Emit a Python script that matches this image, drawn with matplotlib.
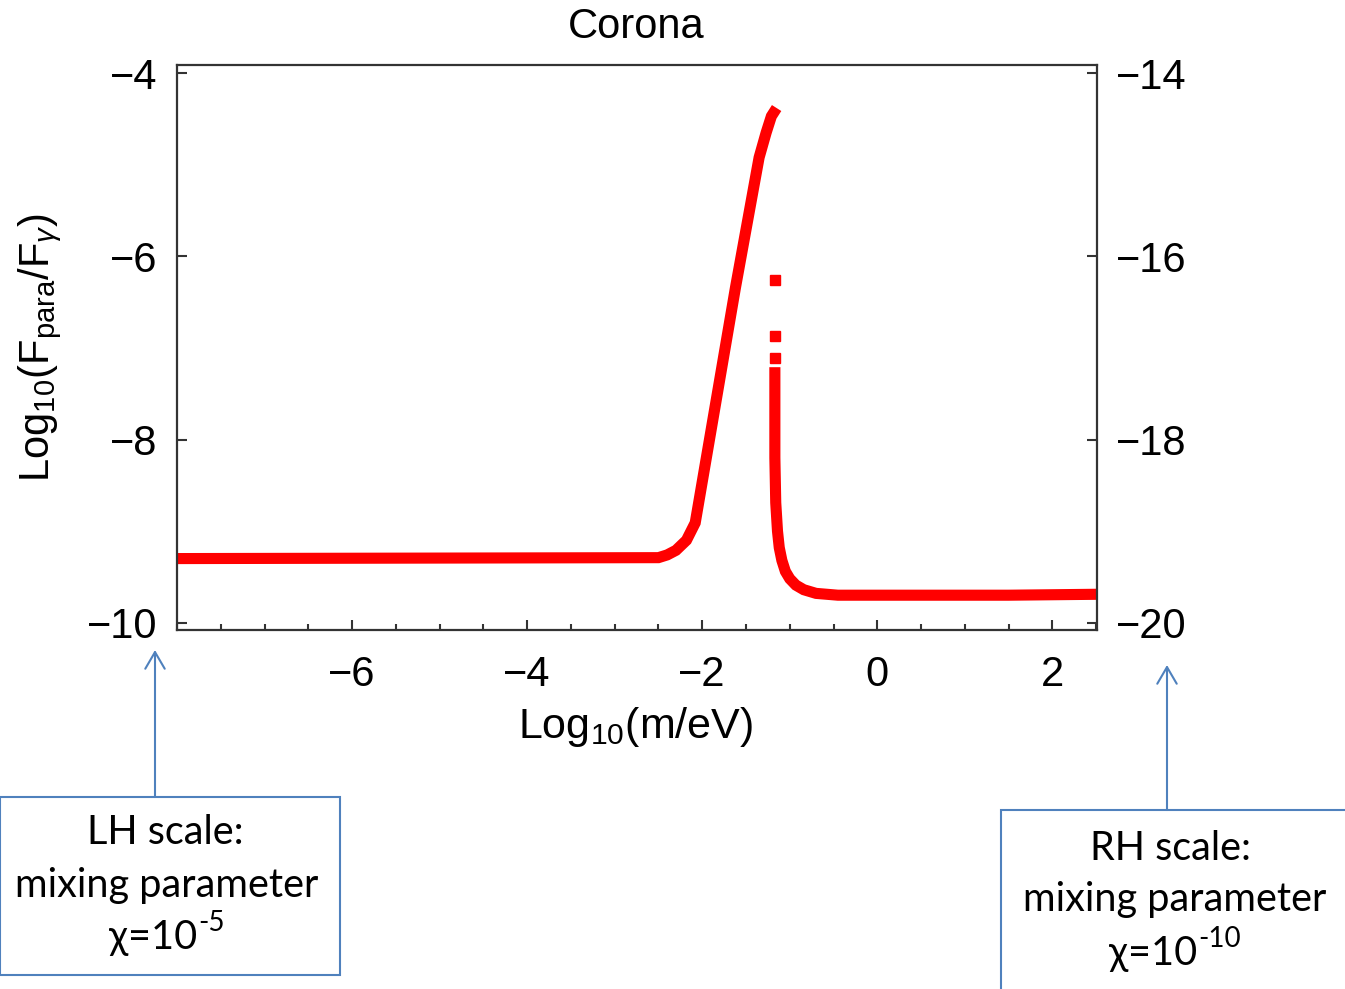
import matplotlib
matplotlib.use("Agg")
import matplotlib.pyplot as plt
from matplotlib.patches import Rectangle, FancyArrowPatch
from matplotlib.ticker import MultipleLocator, FuncFormatter

plt.rcParams['font.family'] = ['Liberation Sans', 'DejaVu Sans']
plt.rcParams['mathtext.fontset'] = 'custom'
plt.rcParams['mathtext.rm'] = 'Liberation Sans'
plt.rcParams['mathtext.it'] = 'Liberation Sans:italic'
plt.rcParams['mathtext.bf'] = 'Liberation Sans:bold'

# --- data (log10 m/eV, log10 Fpara/Fgamma on LH scale) ---
x_rise = [-8.0, -2.5, -2.4, -2.3, -2.18, -2.08, -1.62, -1.35, -1.27, -1.21, -1.15]
y_rise = [-9.30, -9.29, -9.26, -9.21, -9.10, -8.91, -6.34, -4.92, -4.65, -4.47, -4.38]

x_dots = [-1.17, -1.17, -1.17]
y_dots = [-6.26, -6.87, -7.11]

x_fall = [-1.17, -1.17, -1.16, -1.14, -1.12, -1.09, -1.05, -1.00, -0.93,
          -0.84, -0.70, -0.45, 0.5, 1.5, 2.5]
y_fall = [-7.21, -8.20, -8.69, -9.00, -9.18, -9.32, -9.44, -9.52, -9.59,
          -9.64, -9.68, -9.70, -9.70, -9.70, -9.69]

x_ticks = [-6, -4, -2, 0, 2]
y_ticks_left = [-4, -6, -8, -10]
rh_offset = -10   # RH scale = LH scale - 10 (chi 1e-10 instead of 1e-5)

W, H = 1345, 989


def fx(px):
    return px / W


def fy(py):
    return 1 - py / H


fig = plt.figure(figsize=(W / 100, H / 100), dpi=100)
ax = fig.add_axes([fx(177), fy(630), fx(1097) - fx(177), fy(65) - fy(630)])

red = '#ff0000'
ax.plot(x_rise, y_rise, color=red, lw=8, solid_capstyle='butt', solid_joinstyle='miter')
ax.plot(x_fall, y_fall, color=red, lw=8, solid_capstyle='butt', solid_joinstyle='miter')
ax.plot(x_dots, y_dots, 's', color=red, ms=7.5, mec=red)

ax.set_xlim(-8, 2.51)
ax.set_ylim(-10.08, -3.91)

spine_col = '#333333'
for s in ax.spines.values():
    s.set_linewidth(1.6)
    s.set_color(spine_col)

fmt = FuncFormatter(lambda v, p: f'{v:.0f}'.replace('-', '\u2212'))
tick_size = 30
ax.set_xticks(x_ticks)
ax.xaxis.set_minor_locator(MultipleLocator(0.5))
ax.xaxis.set_major_formatter(fmt)
ax.set_yticks(y_ticks_left)
ax.yaxis.set_major_formatter(fmt)
ax.tick_params(axis='both', which='major', direction='in', length=7, width=1.5,
               color=spine_col, labelsize=tick_size)
ax.tick_params(axis='x', which='major', pad=18)
ax.tick_params(axis='y', which='major', pad=14)
ax.tick_params(axis='x', which='minor', direction='in', length=4, width=1.5, color=spine_col)
ax.tick_params(top=False, which='both')

ax2 = ax.twinx()
ax2.set_ylim(ax.get_ylim()[0] + rh_offset, ax.get_ylim()[1] + rh_offset)
ax2.set_yticks([v + rh_offset for v in y_ticks_left])
ax2.yaxis.set_major_formatter(fmt)
ax2.tick_params(axis='y', direction='in', length=7, width=1.5, color=spine_col,
                labelsize=tick_size, pad=14)
for s in ax2.spines.values():
    s.set_visible(False)

fig.text(fx(636), fy(27), 'Corona', ha='center', va='center', fontsize=30)
fig.text(fx(636), fy(727), r'$\mathrm{Log}_{10}(\mathrm{m/eV})$', ha='center', va='center',
         fontsize=31)
fig.text(fx(40), fy(348), r'$\mathrm{Log}_{10}(\mathrm{F}_{\mathrm{para}}/\mathrm{F}_{\gamma})$',
         ha='center', va='center', rotation=90, fontsize=30)

# --- annotation boxes ---
blue = '#4f81bd'
box_font = ['Lato', 'DejaVu Sans']
box_size = 28.5

fig.add_artist(Rectangle((fx(0), fy(975)), fx(340), fy(797) - fy(975), transform=fig.transFigure,
                         fill=False, ec=blue, lw=1.5, clip_on=False))
fig.add_artist(Rectangle((fx(1001), fy(995)), fx(400), fy(810) - fy(995), transform=fig.transFigure,
                         fill=False, ec=blue, lw=1.5, clip_on=False))
for xa, y0, y1 in [(155, 797, 650), (1167, 810, 665)]:
    fig.add_artist(FancyArrowPatch((fx(xa), fy(y0)), (fx(xa), fy(y1)), transform=fig.transFigure,
                                   arrowstyle='->,head_length=12,head_width=7', mutation_scale=1,
                                   color=blue, lw=1.5, shrinkA=0, shrinkB=0))

renderer = fig.canvas.get_renderer()


def chi_text(cx, cy, exp):
    base = fig.text(0, fy(cy), '\u03c7=10', ha='left', va='center', fontsize=box_size,
                    family=box_font)
    sup = fig.text(0, fy(cy - 14), exp, ha='left', va='center', fontsize=box_size * 0.7,
                   family=box_font)
    wb = base.get_window_extent(renderer).width
    ws = sup.get_window_extent(renderer).width
    left = cx - (wb + ws) / 2
    base.set_x(fx(left))
    sup.set_x(fx(left + wb + 1))


fig.text(fx(165), fy(833), 'LH scale:', ha='center', va='center', fontsize=box_size, family=box_font)
fig.text(fx(167), fy(885), 'mixing parameter', ha='center', va='center', fontsize=box_size,
         family=box_font)
chi_text(166, 937, '-5')

fig.text(fx(1170), fy(848), 'RH scale:', ha='center', va='center', fontsize=box_size, family=box_font)
fig.text(fx(1175), fy(900), 'mixing parameter', ha='center', va='center', fontsize=box_size,
         family=box_font)
chi_text(1174, 953, '-10')

fig.savefig('out.png', dpi=100)
